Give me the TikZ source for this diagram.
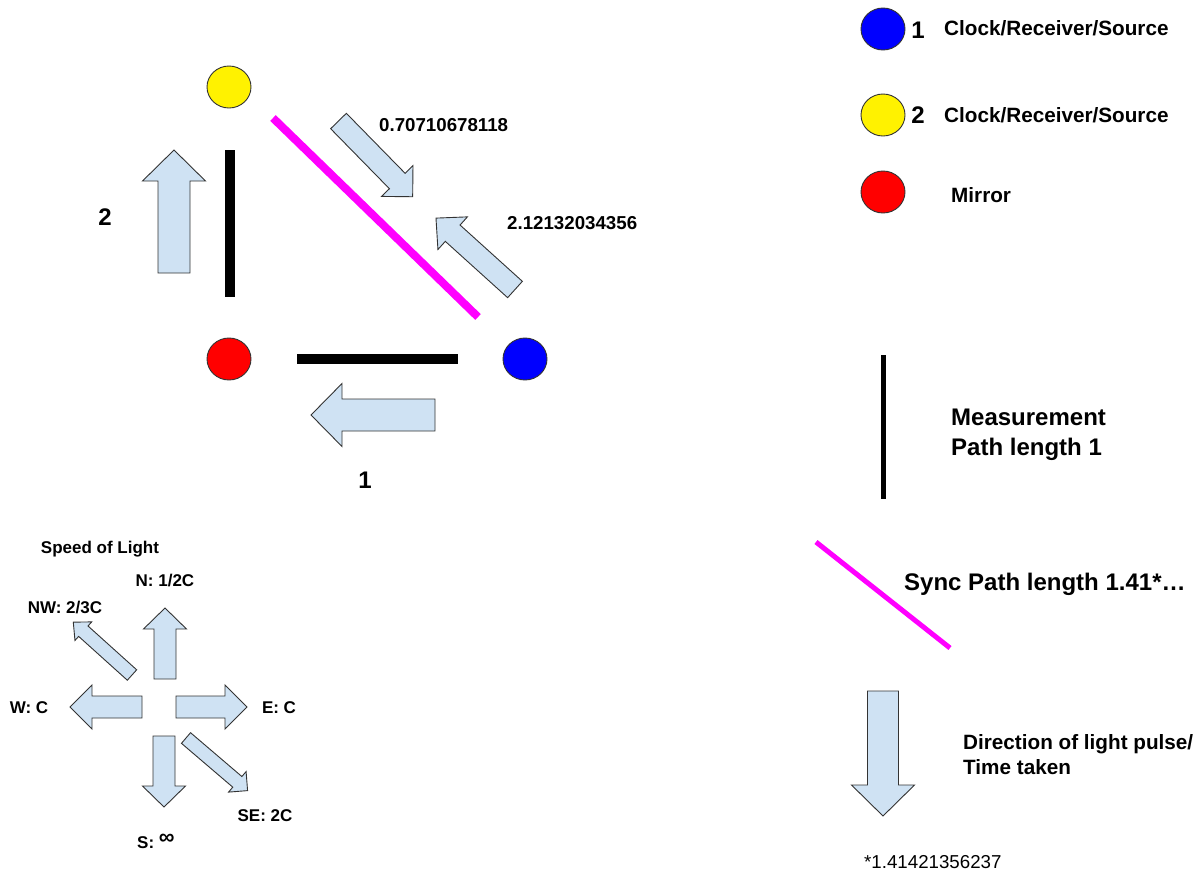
\documentclass[tikz,border=0pt]{standalone}
\usepackage{fontspec}
\setmainfont{Liberation Sans}
\usetikzlibrary{shapes.geometric}
\definecolor{arrowfill}{HTML}{CFE2F3}
\definecolor{edgegray}{HTML}{333333}
\definecolor{magentaline}{HTML}{FF00FF}
\newcommand{\blockarrow}[6]{%
  \draw[blockarr,shift={(#1)},rotate=#2]
    (0,{-#4/2}) -- ({#3-#6},{-#4/2}) -- ({#3-#6},{-#5/2}) -- (#3,0)
    -- ({#3-#6},{#5/2}) -- ({#3-#6},{#4/2}) -- (0,{#4/2}) -- cycle;}
\tikzset{
  blockarr/.style={fill=arrowfill,draw=edgegray,line width=0.9pt,line join=miter},
  dot/.style={ellipse,minimum width=44pt,minimum height=42pt,inner sep=0pt,draw=edgegray,line width=0.9pt},
  measline/.style={line width=10pt,black},
  syncline/.style={line width=8pt,magentaline},
  lbl/.style={inner sep=0pt,text depth=0pt},
  tbig/.style={lbl,font=\fontsize{24}{28}\selectfont\bfseries,text height=17.2pt},
  tleg/.style={lbl,font=\fontsize{20.7}{24}\selectfont\bfseries,text height=14.8pt},
  tnum/.style={lbl,font=\fontsize{18.7}{22}\selectfont\bfseries,text height=13.4pt},
  tcmp/.style={lbl,font=\fontsize{17}{20}\selectfont\bfseries,text height=12.2pt},
  tfoot/.style={lbl,font=\fontsize{18.7}{22}\selectfont,text height=13.4pt},
}
\begin{document}
\begin{tikzpicture}[x=1pt,y=-1pt]
\useasboundingbox (0,0) rectangle (1204,871);
% ---------- main diagram ----------
\node[dot,fill=yellow] (yellow) at (229,87) {};
\node[dot,fill=red] (red) at (229,359) {};
\node[dot,fill=blue] (blue) at (525,359) {};
\coordinate (v1) at (230,150); \coordinate (v2) at (230,297);
\coordinate (h1) at (297,359); \coordinate (h2) at (458,359);
\coordinate (s1) at (273,118); \coordinate (s2) at (478,317);
\draw[measline] (v1) -- (v2);
\draw[measline] (h1) -- (h2);
\draw[syncline] (s1) -- (s2);
\blockarrow{174,273}{90}{123}{32}{63}{31}
\blockarrow{435,415}{180}{124}{32}{63}{31}
\blockarrow{338.5,121}{-45.6}{106}{22}{44}{22}
\blockarrow{515,289.5}{137.9}{106.5}{22}{44}{22.5}
\node[tnum,anchor=west] (n707) at (379,125) {0.70710678118};
\node[tnum,anchor=west] (n212) at (507,223) {2.12132034356};
\node[tbig] (lab2) at (105,217) {2};
\node[tbig] (lab1) at (365,480) {1};
% ---------- legend ----------
\node[dot,fill=blue] (lblue) at (883,29) {};
\node[dot,fill=yellow] (lyellow) at (883,115) {};
\node[dot,fill=red] (lred) at (883,192) {};
\node[tbig] (leg1) at (918,30) {1};
\node[tbig] (leg2) at (918,115) {2};
\node[tleg,anchor=west] (legc1) at (944,28) {Clock/Receiver/Source};
\node[tleg,anchor=west] (legc2) at (944,115) {Clock/Receiver/Source};
\node[tleg,anchor=west] (legm) at (951,195) {Mirror};
\coordinate (m1) at (883,355); \coordinate (m2) at (883,499);
\draw[line width=5pt,black] (m1) -- (m2);
\node[tbig,anchor=west] (meas1) at (951,417) {Measurement};
\node[tbig,anchor=west] (meas2) at (951,447) {Path length 1};
\coordinate (ms1) at (816,542); \coordinate (ms2) at (950,648);
\draw[line width=5pt,magentaline] (ms1) -- (ms2);
\node[tbig,anchor=west] (sync) at (904,582) {Sync Path length 1.41*…};
\blockarrow{883,691}{-90}{125}{31}{63}{31}
\node[tleg,anchor=west] (dir1) at (963,742) {Direction of light pulse/};
\node[tleg,anchor=west] (dir2) at (963,767) {Time taken};
\node[tfoot,anchor=west] (foot) at (864,862) {*1.41421356237};
% ---------- compass ----------
\node[tcmp] (sol) at (100,547) {Speed of Light};
\node[tcmp] (cn) at (165,580) {N: 1/2C};
\node[tcmp] (cnw) at (65,607) {NW: 2/3C};
\node[tcmp] (cw) at (29,707) {W: C};
\node[tcmp] (ce) at (279,707) {E: C};
\node[tcmp] (cse) at (265,815) {SE: 2C};
\node[tcmp,anchor=west] (cs) at (137,842) {S: \raisebox{3.5pt}{\fontsize{22}{22}\selectfont\bfseries ∞}};
\blockarrow{165,679}{90}{71}{22}{43}{21}
\blockarrow{142,707}{180}{72}{22}{44}{22}
\blockarrow{176,707}{0}{71}{22}{44}{22}
\blockarrow{164,736}{-90}{71}{22}{43}{21}
\blockarrow{132,675}{138}{79}{14}{25}{13.5}
\blockarrow{186,738}{-40.5}{81}{14}{27}{13.5}
\end{tikzpicture}
\end{document}
